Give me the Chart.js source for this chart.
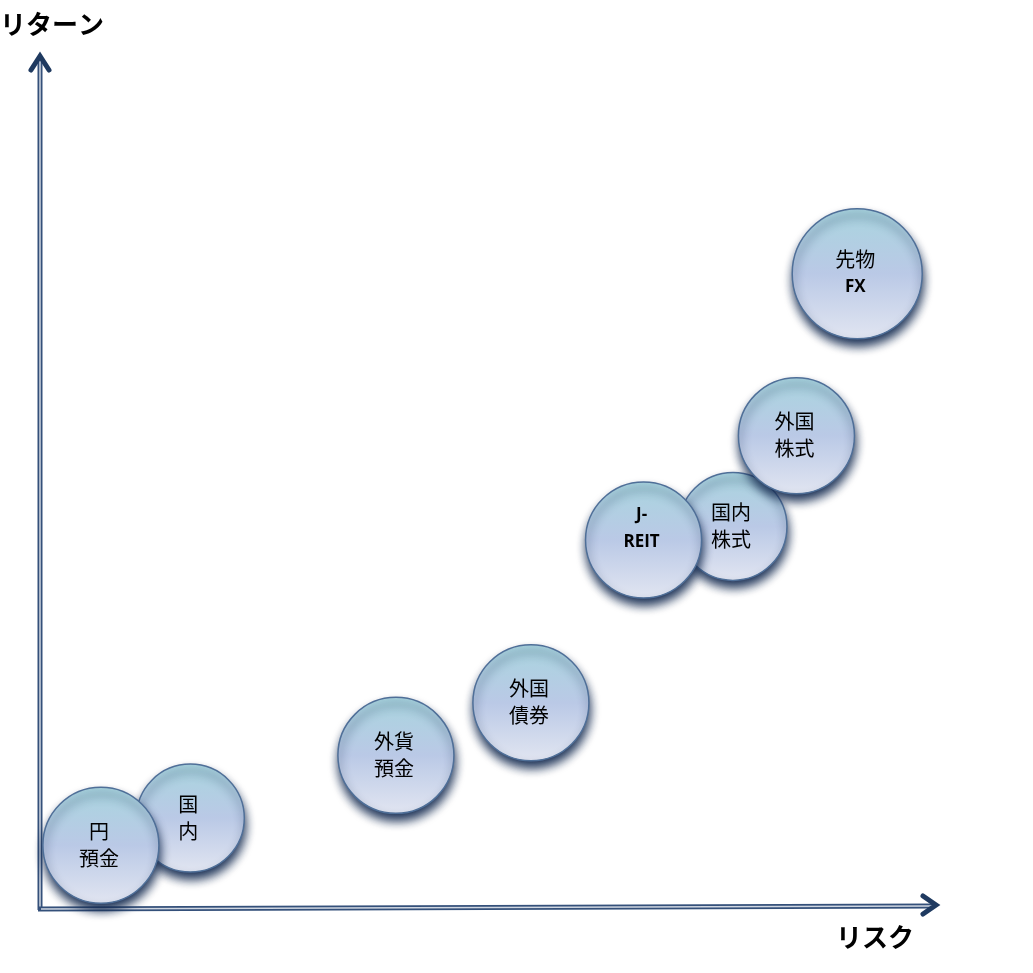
<!DOCTYPE html>
<html>
<head>
<meta charset="utf-8">
<script src="https://cdn.jsdelivr.net/npm/chart.js@4.4.1/dist/chart.umd.min.js"></script>
<style>
  html, body { margin: 0; padding: 0; background: #fff; }
  #wrap { width: 1033px; height: 973px; position: relative; }
</style>
</head>
<body>
<div id="wrap"><canvas id="riskChart"></canvas></div>
<script>
// 商品ごとのリスク・リターン（目安）
const names   = ["国内", "円預金", "外貨預金", "外国債券", "国内株式", "J-REIT", "外国株式", "先物FX"];
const labels  = [["国","内"], ["円","預金"], ["外貨","預金"], ["外国","債券"], ["国内","株式"], ["J-","REIT"], ["外国","株式"], ["先物","FX"]];
const risk    = [16.7, 6.7, 39.7, 54.8, 77.4, 67.4, 84.5, 91.3];
const ret     = [10.6, 7.4, 18.0, 24.2, 45.0, 43.4, 55.7, 74.8];
const sizes   = [54, 58, 58, 58, 54, 58, 58, 65];

const points = risk.map((x, i) => ({ x: x, y: ret[i], r: sizes[i] }));

function bubbleFill(c) {
  const chart = c.chart;
  const raw = c.raw;
  if (!chart.chartArea || !raw) return "#bac9e5";
  const cy = chart.scales.y.getPixelForValue(raw.y);
  const g = chart.ctx.createLinearGradient(0, cy - raw.r, 0, cy + raw.r);
  g.addColorStop(0, "#a9d5df");
  g.addColorStop(0.5, "#bac9e6");
  g.addColorStop(1, "#e1e5f1");
  return g;
}

const axesPlugin = {
  id: "axes",
  beforeDatasetsDraw(chart) {
    const ctx = chart.ctx;
    const a = chart.chartArea;
    const ox = a.left, oy = a.bottom;
    ctx.save();
    ctx.lineCap = "butt";
    // y axis (double line)
    ctx.strokeStyle = "#34507a";
    ctx.lineWidth = 5;
    ctx.beginPath(); ctx.moveTo(ox - 1, oy + 2); ctx.lineTo(ox - 1, 60); ctx.stroke();
    ctx.strokeStyle = "#d0d7e2";
    ctx.lineWidth = 1.5;
    ctx.beginPath(); ctx.moveTo(ox - 1, oy); ctx.lineTo(ox - 1, 60); ctx.stroke();
    // x axis
    ctx.strokeStyle = "#34507a";
    ctx.lineWidth = 5;
    ctx.beginPath(); ctx.moveTo(ox - 3, oy + 1); ctx.lineTo(933, oy - 2); ctx.stroke();
    ctx.strokeStyle = "#d0d7e2";
    ctx.lineWidth = 1.5;
    ctx.beginPath(); ctx.moveTo(ox, oy + 1); ctx.lineTo(933, oy - 2); ctx.stroke();
    // arrow heads
    ctx.strokeStyle = "#1f3a60";
    ctx.lineWidth = 5;
    ctx.lineCap = "round";
    ctx.lineJoin = "miter";
    ctx.beginPath(); ctx.moveTo(ox - 10, 70); ctx.lineTo(ox - 1, 56); ctx.lineTo(ox + 8, 70); ctx.stroke();
    ctx.beginPath(); ctx.moveTo(923, 896); ctx.lineTo(936, 905); ctx.lineTo(923, 914); ctx.stroke();
    // axis titles
    ctx.fillStyle = "#000";
    ctx.font = "bold 26px 'Noto Sans CJK JP'";
    ctx.textBaseline = "middle";
    ctx.textAlign = "left";
    ctx.fillText("リターン", 0, 24);
    ctx.fillText("リスク", 836, 937);
    ctx.restore();

    // shadow for the bubbles
    ctx.save();
    ctx.shadowColor = "rgba(20, 42, 80, 0.95)";
    ctx.shadowBlur = 10;
    ctx.shadowOffsetX = 1;
    ctx.shadowOffsetY = 7;
  },
  afterDatasetsDraw(chart) {
    const ctx = chart.ctx;
    ctx.restore();
    const meta = chart.getDatasetMeta(0);
    ctx.save();
    ctx.fillStyle = "#000";
    ctx.textAlign = "center";
    ctx.textBaseline = "middle";
    meta.data.forEach((el, i) => {
      const lines = labels[i];
      let cy = el.y;
      if (names[i] === "J-REIT") cy -= 11;
      lines.forEach((t, k) => {
        const latin = /^[A-Z\-]+$/.test(t);
        ctx.font = latin ? "bold 17px 'Open Sans'" : "20px 'Noto Sans CJK JP'";
        ctx.fillText(t, el.x - 2, cy + (k === 0 ? -14 : 13));
      });
    });
    ctx.restore();
  }
};

new Chart(document.getElementById("riskChart"), {
  type: "bubble",
  data: {
    labels: names,
    datasets: [{
      data: points,
      backgroundColor: bubbleFill,
      borderColor: "#4f6f98",
      borderWidth: 1.5,
      hoverBorderWidth: 1.5,
      clip: false
    }]
  },
  options: {
    responsive: true,
    maintainAspectRatio: false,
    animation: false,
    events: [],
    layout: { autoPadding: false, padding: { left: 41, right: 98, top: 60, bottom: 65 } },
    plugins: {
      legend: { display: false },
      tooltip: { enabled: false }
    },
    scales: {
      x: { type: "linear", min: 0, max: 100, display: false },
      y: { type: "linear", min: 0, max: 100, display: false }
    }
  },
  plugins: [axesPlugin]
});
</script>
</body>
</html>
